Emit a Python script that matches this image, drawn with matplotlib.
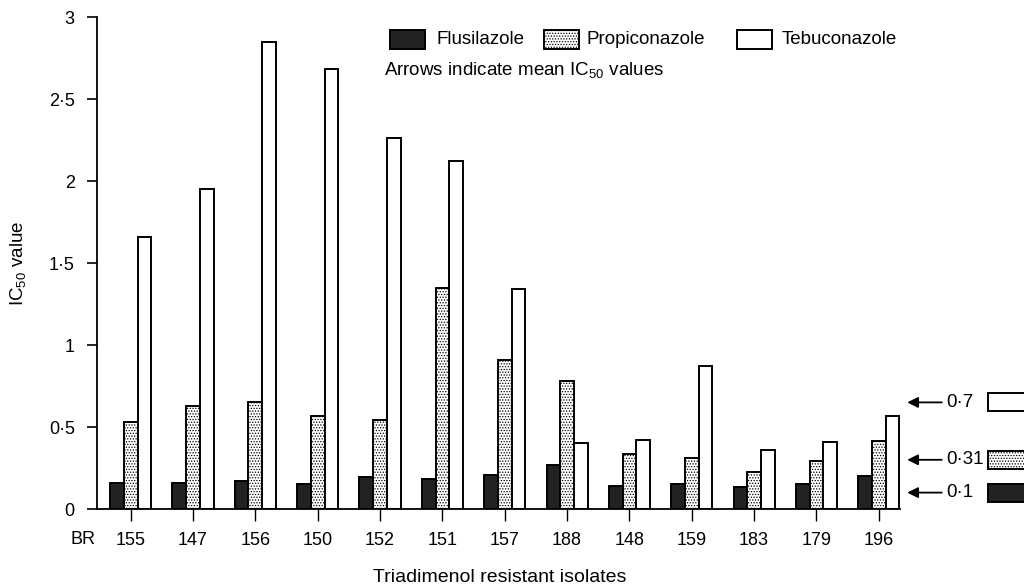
import matplotlib
matplotlib.use('Agg')
import matplotlib.pyplot as plt
import matplotlib.transforms as mtransforms
from matplotlib.patches import Rectangle
import numpy as np

# Data (IC50 values per isolate)
isolates = ['155', '147', '156', '150', '152', '151', '157',
            '188', '148', '159', '183', '179', '196']
flusilazole = [0.16, 0.16, 0.17, 0.15, 0.195, 0.18, 0.21,
               0.27, 0.14, 0.15, 0.135, 0.15, 0.20]
propiconazole = [0.53, 0.63, 0.65, 0.57, 0.54, 1.35, 0.91,
                 0.78, 0.335, 0.31, 0.225, 0.29, 0.415]
tebuconazole = [1.66, 1.95, 2.85, 2.68, 2.26, 2.12, 1.34,
                0.40, 0.42, 0.87, 0.36, 0.41, 0.57]

# Mean IC50 values shown by the arrows on the right
mean_values = [0.1, 0.31, 0.7]
arrow_y = [0.10, 0.30, 0.65]

plt.rcParams['font.family'] = ['Liberation Sans', 'DejaVu Sans']
plt.rcParams['mathtext.fontset'] = 'custom'
plt.rcParams['mathtext.rm'] = 'Liberation Sans'
plt.rcParams['mathtext.it'] = 'Liberation Sans:italic'
plt.rcParams['hatch.linewidth'] = 0.6

W, H = 1024, 586
fig = plt.figure(figsize=(W / 100, H / 100), dpi=100)
ax = fig.add_axes([97 / W, 1 - 509 / H, 803 / W, 492 / H])


def fig_px(px, py):
    return px / W, 1 - py / H


DARK = '#222222'
styles = {
    'flu': dict(facecolor=DARK, edgecolor='black', linewidth=1.4),
    'pro': dict(facecolor='white', edgecolor='black', linewidth=1.4, hatch='......'),
    'teb': dict(facecolor='white', edgecolor='black', linewidth=1.4),
}

x = np.arange(len(isolates))
w = 0.22
ax.bar(x - w, flusilazole, w, **styles['flu'])
ax.bar(x, propiconazole, w, **styles['pro'])
ax.bar(x + w, tebuconazole, w, **styles['teb'])

ax.set_xlim(-0.54, 12.34)
ax.set_ylim(0, 3)

for side in ['top', 'right']:
    ax.spines[side].set_visible(False)
for side in ['left', 'bottom']:
    ax.spines[side].set_linewidth(1.3)

yticks = np.arange(0, 3.01, 0.5)
ax.set_yticks(yticks, [f'{v:g}'.replace('.', '·') for v in yticks])
ax.set_xticks(x, isolates)
ax.tick_params(axis='y', length=7, width=1.2, pad=9, labelsize=13)
ax.tick_params(axis='x', length=8.5, width=1.0, pad=8, labelsize=13)

fig.text(*fig_px(70, 540), 'BR', ha='left', va='center', fontsize=13)
fig.text(*fig_px(18, 263), 'IC$_{50}$ value', rotation=90,
         ha='center', va='center', fontsize=13.5)
fig.text(*fig_px(500, 577), 'Triadimenol resistant isolates',
         ha='center', va='center', fontsize=14)

# Legend drawn by hand to match the spacing of the original
legend_items = [('Flusilazole', 'flu', 390, 437),
                ('Propiconazole', 'pro', 544, 587),
                ('Tebuconazole', 'teb', 737, 782)]
for label, key, px, tx in legend_items:
    fig.add_artist(Rectangle(fig_px(px, 49), 35 / W, 19 / H,
                             transform=fig.transFigure, **styles[key]))
    fig.text(*fig_px(tx, 40), label, ha='left', va='center', fontsize=13.5)
fig.text(*fig_px(384, 70), 'Arrows indicate mean IC$_{50}$ values',
         ha='left', va='center', fontsize=13.5)

# Mean value arrows on the right of the axes
trans = mtransforms.blended_transform_factory(ax.transAxes, ax.transData)
for m, ya, key in zip(mean_values, arrow_y, ['flu', 'pro', 'teb']):
    ax.annotate('', xy=(1.009, ya), xytext=(1.052, ya),
                xycoords=trans, textcoords=trans, annotation_clip=False,
                arrowprops=dict(arrowstyle='-|>', color='black', lw=1.3,
                                mutation_scale=16, shrinkA=0, shrinkB=0))
    ax.text(1.058, ya, f'{m:g}'.replace('.', '·'), transform=trans,
            ha='left', va='center', fontsize=13.5)
    ax.add_patch(Rectangle((1.1096, ya - 0.055), 0.06, 0.11, transform=trans,
                           clip_on=False, **styles[key]))

fig.savefig('out.png', dpi=100)
